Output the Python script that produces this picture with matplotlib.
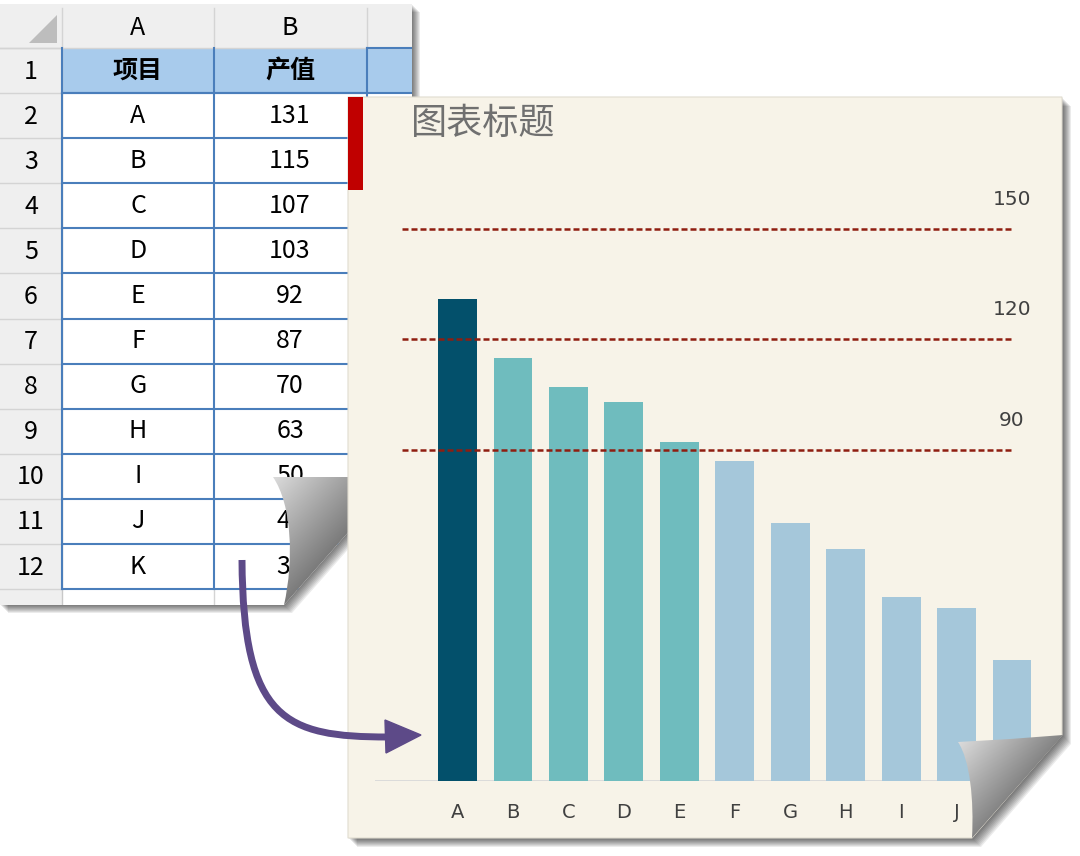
import numpy as np
import matplotlib.pyplot as plt
from matplotlib.patches import Rectangle, Polygon, PathPatch
from matplotlib.path import Path

plt.rcParams['font.family'] = ['Noto Sans CJK SC', 'DejaVu Sans']

# data
items = ['A', 'B', 'C', 'D', 'E', 'F', 'G', 'H', 'I', 'J', 'K']
values = [131, 115, 107, 103, 92, 87, 70, 63, 50, 47, 33]
ref_levels = [90, 120, 150]
table_header = ['项目', '产值']
col_letters = ['A', 'B']
chart_title = '图表标题'

# colours: top item, next four, the rest
bar_colors = ['#03506B'] + ['#6FBCBE'] * 4 + ['#A5C7DA'] * 6
panel_bg = '#F7F3E8'
grid_blue = '#4A7EBB'
head_gray = '#EFEFEF'
line_gray = '#D4D4D4'

fig = plt.figure(figsize=(10.8, 8.56), dpi=100)
fig.patch.set_facecolor('white')

# background layer in pixel coords (y down)
bg = fig.add_axes([0, 0, 1, 1], zorder=0)
bg.axis('off')


def soft_shadow(axis, poly, z, n=8, alpha=0.08):
    for k in range(1, n + 1):
        axis.add_patch(Polygon([(x + k, y + k) for x, y in poly], closed=True,
                               fc='black', alpha=alpha, lw=0, zorder=z))


def curl(axis, verts, codes, tip, normal, tmax, z, light=0.93, dark=0.45):
    path = Path(verts, codes)
    patch = PathPatch(path, fc='none', ec='none', transform=axis.transData, zorder=z)
    axis.add_patch(patch)
    ext = path.get_extents()
    x0, y0, x1, y1 = ext.x0 - 2, ext.y0 - 2, ext.x1 + 2, ext.y1 + 2
    X, Y = np.meshgrid(np.linspace(x0, x1, 240), np.linspace(y0, y1, 240))
    t = ((X - tip[0]) * normal[0] + (Y - tip[1]) * normal[1]) / tmax
    g = light - dark * np.clip(t, 0, 1)
    im = axis.imshow(g, extent=(x0, x1, y1, y0), origin='upper', cmap='gray',
                     vmin=0, vmax=1, aspect='auto', interpolation='bilinear', zorder=z)
    im.set_clip_path(patch)


# ---------------- spreadsheet ----------------
sheet_poly = [(0, 4), (412, 4), (412, 460), (284, 605), (0, 605)]
soft_shadow(bg, sheet_poly, 1)
bg.add_patch(Polygon(sheet_poly, closed=True, fc='white', lw=0, zorder=2))
sheet_clip = Polygon(sheet_poly, closed=True, transform=bg.transData)

row_y = [48] + [93 + 45.1 * k for k in range(13)]   # row edges, rows 1..13
col_x = [62, 214, 367, 412]
col_cx = [138, 290]

arts = []
arts.append(bg.add_patch(Rectangle((0, 4), 412, 44, fc=head_gray, lw=0, zorder=3)))
arts.append(bg.add_patch(Rectangle((0, 48), 62, 560, fc=head_gray, lw=0, zorder=3)))
arts.append(bg.add_patch(Rectangle((62, 48), 350, 45, fc='#A8CBEC', lw=0, zorder=3)))
arts.append(bg.add_patch(Polygon([(57, 15), (57, 43), (29, 43)], closed=True,
                                 fc='#BDBDBD', lw=0, zorder=4)))
for x in col_x[:3]:
    arts += bg.plot([x, x], [8, 48], color=line_gray, lw=1, zorder=4)
arts += bg.plot([62, 62], [48, 620], color='#C8C8C8', lw=1, zorder=4)
for y in row_y:
    arts += bg.plot([0, 62], [y, y], color=line_gray, lw=1, zorder=4)
arts += bg.plot([0, 412], [48, 48], color=line_gray, lw=1, zorder=4)
# cell borders
arts += bg.plot([62, 412], [93, 93], color=grid_blue, lw=1.5, zorder=5)
arts += bg.plot([367, 412], [48, 48], color=grid_blue, lw=1.5, zorder=5)
for y in row_y[1:13]:
    arts += bg.plot([62, 367], [y, y], color=grid_blue, lw=1.5, zorder=5)
for x in col_x[:3]:
    arts += bg.plot([x, x], [48, row_y[12]], color=grid_blue, lw=1.5, zorder=5)
arts += bg.plot([214, 214], [row_y[12], 620], color=line_gray, lw=1, zorder=4)
for a in arts:
    a.set_clip_path(sheet_clip)

tkw = dict(ha='center', va='center', fontsize=18, color='black', zorder=6)
for cx, c in zip(col_cx, col_letters):
    bg.text(cx, 28, c, **tkw)
for r in range(12):
    cy = (row_y[r] + row_y[r + 1]) / 2
    bg.text(31, cy + 1, str(r + 1), **tkw)
for cx, h in zip(col_cx, table_header):
    bg.text(cx, 71, h, fontweight='bold', **tkw)
for i, (it, v) in enumerate(zip(items, values)):
    cy = (row_y[i + 1] + row_y[i + 2]) / 2
    bg.text(col_cx[0], cy, it, **tkw)
    bg.text(col_cx[1], cy, str(v), **tkw)

# spreadsheet page curl
curl(bg,
     [(273, 477), (397, 477), (284, 605), (294, 560), (292, 505), (273, 477), (273, 477)],
     [Path.MOVETO, Path.LINETO, Path.LINETO, Path.CURVE4, Path.CURVE4, Path.CURVE4,
      Path.CLOSEPOLY],
     (273, 477), (128 / 170.7, 113 / 170.7), 93, 7, light=0.86, dark=0.38)

# ---------------- chart panel ----------------
panel_poly = [(348, 97), (1062, 97), (1062, 735), (972, 838), (348, 838)]
soft_shadow(bg, panel_poly, 8, n=9)
bg.add_patch(Polygon(panel_poly, closed=True, fc=panel_bg, ec='#E0DCD0', lw=0.8, zorder=10))
bg.add_patch(Rectangle((348, 97), 15, 93, fc='#C00000', lw=0, zorder=11))
bg.text(411, 124, chart_title, ha='left', va='center', fontsize=26, color='#707070', zorder=11)
panel_clip = Polygon(panel_poly, closed=True, transform=bg.transData)

bg.set_xlim(0, 1080)
bg.set_ylim(856, 0)

# ---------------- bar chart ----------------
ax = fig.add_axes([375 / 1080, 75 / 856, 670 / 1080, 589 / 856], zorder=1)
ax.patch.set_visible(False)
x = np.arange(len(items))
bars = ax.bar(x, values, width=0.70, color=bar_colors, zorder=2)
for b in bars:
    b.set_clip_path(panel_clip)
base = ax.axhline(0, xmin=0, xmax=0.99, color='#D9D9D9', lw=1.3, zorder=1)
base.set_clip_path(panel_clip)
ax.hlines(ref_levels, -1, 10, colors='#8F1D10', linestyles=(0, (2.4, 1.2)), lw=1.8, zorder=3)
for v in ref_levels:
    ax.text(10, v + 8, str(v), ha='center', va='center', fontsize=14.5,
            color='#404040', family='DejaVu Sans')
ax.set_xlim(-1.488, 10.595)
ax.set_ylim(0, 160)
ax.set_xticks(x)
ax.set_xticklabels(items, family='DejaVu Sans')
ax.tick_params(axis='x', length=0, pad=16, labelsize=14, labelcolor='#404040')
# last label falls on the curled-away corner of the page
ax.get_xticklabels()[-1].set_visible(False)
ax.set_yticks([])
for s in ax.spines.values():
    s.set_visible(False)

# ---------------- foreground: chart curl and arrow ----------------
fg = fig.add_axes([0, 0, 1, 1], zorder=2)
fg.axis('off')
fg.patch.set_visible(False)

curl(fg,
     [(958, 742), (1010, 739), (1063, 735), (972, 838), (974, 800), (970, 760), (958, 742),
      (958, 742)],
     [Path.MOVETO, Path.LINETO, Path.LINETO, Path.LINETO, Path.CURVE4, Path.CURVE4,
      Path.CURVE4, Path.CLOSEPOLY],
     (958, 742), (103 / 137.4, 91 / 137.4), 74, 3, light=0.86, dark=0.34)

arrow_color = '#5D4A88'
shaft = Path([(242, 560), (243, 720), (285, 737), (388, 737)],
             [Path.MOVETO, Path.CURVE4, Path.CURVE4, Path.CURVE4])
fg.add_patch(PathPatch(shaft, fc='none', ec=arrow_color, lw=5, capstyle='butt', zorder=5))
fg.add_patch(Polygon([(385, 720), (421, 735), (386, 753)], closed=True,
                     fc=arrow_color, ec=arrow_color, lw=1, zorder=6))

fg.set_xlim(0, 1080)
fg.set_ylim(856, 0)

fig.savefig('out.png', dpi=100)
